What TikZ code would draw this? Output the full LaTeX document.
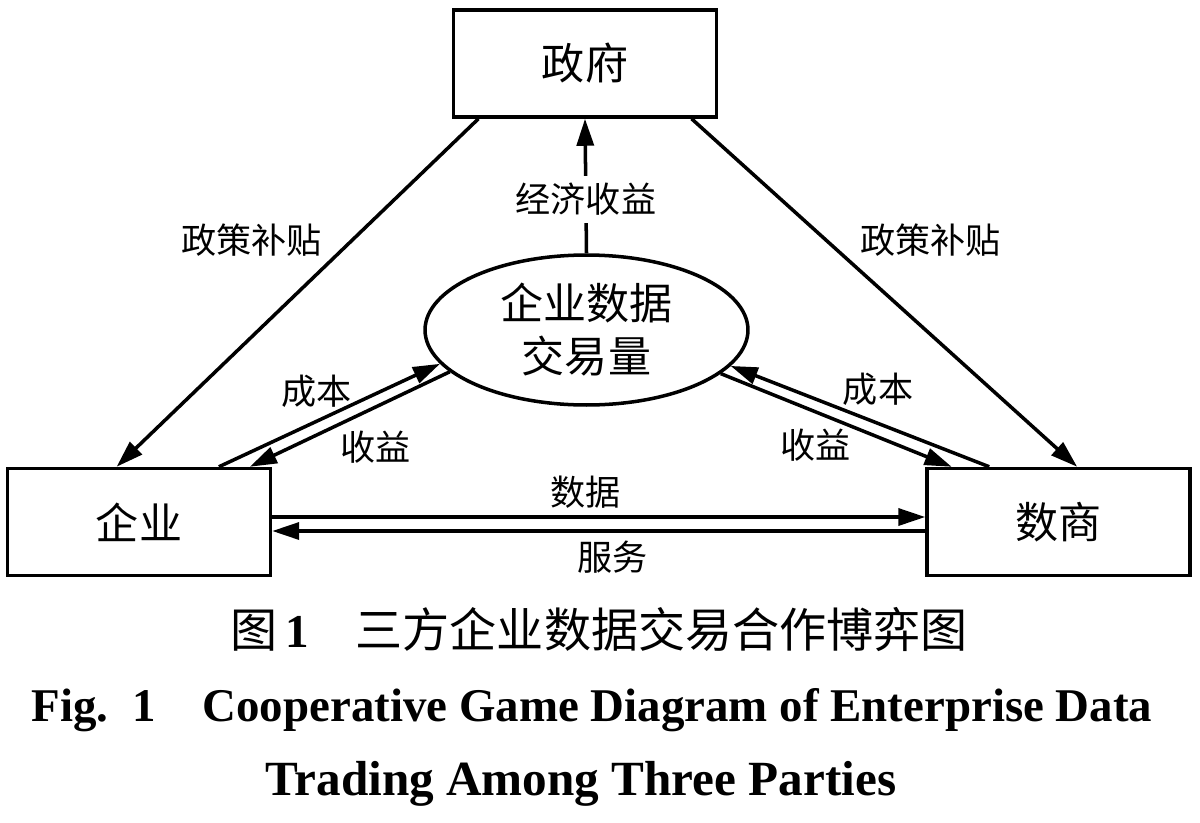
\documentclass[tikz,border=0pt]{standalone}
\usepackage{fontspec}
\setmainfont{Liberation Serif}
\newfontfamily\cjk{Noto Sans CJK SC}
\usepackage{tikz}
\usetikzlibrary{arrows.meta,shapes.geometric,calc}
\tikzset{
  pbox/.style={draw,line width=2pt,minimum width=5.26cm,minimum height=2.14cm,
    inner sep=0pt,font=\cjk\fontsize{24.5}{30}\selectfont},
  pvol/.style={pbox,ellipse,minimum width=6.46cm,minimum height=3cm,align=center,
    font=\cjk\fontsize{24.5}{30.2}\selectfont},
  pflow/.style={-{Triangle[length=5.4mm,width=3.4mm]},line width=2pt},
  plab/.style={inner sep=0pt,font=\cjk\fontsize{20}{24}\selectfont},
}

\begin{document}
\begin{tikzpicture}[x=0.02cm,y=-0.02cm]
\useasboundingbox (0,0) rectangle (1200,822);
% the three parties and the traded volume in the middle
\node[pbox] (gov) at (585,63.5) {政府};
\node[pbox] (firm) at (139,522) {企业};
\node[pbox] (dealer) at (1058.5,522) {数商};
\node[pvol] (vol) at (586.5,330) {企业数据\\交易量};
% government subsidies down to both sides
\draw[pflow] ($(gov.south west)!0.10!(gov.south east)$) --
  node[plab,pos=0.35,xshift=-2cm]{政策补贴} ($(firm.north west)!0.416!(firm.north east)$);
\draw[pflow] ($(gov.south west)!0.90!(gov.south east)$) --
  node[plab,pos=0.35,xshift=2.08cm]{政策补贴} ($(dealer.north west)!0.57!(dealer.north east)$);
% volume feeds back to the government
\draw[pflow] (vol.north) -- node[plab,pos=0.4,fill=white,inner sep=4pt]{经济收益} (gov.south);
% cost in, revenue out, on each side
\draw[pflow] ($(firm.north west)!0.80!(firm.north east)$) --
  node[plab,pos=0.44,yshift=6.1mm]{成本} (vol.193.4);
\draw[pflow] (vol.197.7) --
  node[plab,pos=0.37,yshift=-8mm]{收益} ($(firm.north west)!0.916!(firm.north east)$);
\draw[pflow] ($(dealer.north west)!0.24!(dealer.north east)$) --
  node[plab,pos=0.43,yshift=6.8mm]{成本} (vol.346.6);
\draw[pflow] (vol.342.2) --
  node[plab,pos=0.41,yshift=-6.6mm]{收益} ($(dealer.north west)!0.099!(dealer.north east)$);
% data one way, service back
\draw[pflow] ([yshift=1mm]firm.east) --
  node[plab,midway,xshift=-2.7mm,yshift=5mm]{数据} ([yshift=1mm]dealer.west);
\draw[pflow] ([yshift=-1.8mm]dealer.west) --
  node[plab,midway,xshift=2.7mm,yshift=-5.2mm]{服务} ([yshift=-1.8mm]firm.east);
% captions
\node[anchor=base,inner sep=0pt,font=\cjk\fontsize{26.8}{30}\selectfont] (capzh) at (599,647)
  {图\,{\rmfamily\bfseries 1}\quad 三方企业数据交易合作博弈图};
\node[anchor=base,inner sep=0pt,font=\bfseries\fontsize{26.7}{33}\selectfont] (capen1) at (592,721)
  {Fig.\enspace 1\quad Cooperative Game Diagram of Enterprise Data};
\node[anchor=base,inner sep=0pt,font=\bfseries\fontsize{28}{33}\selectfont] (capen2) at (581,795)
  {Trading Among Three Parties};
\end{tikzpicture}
\end{document}
